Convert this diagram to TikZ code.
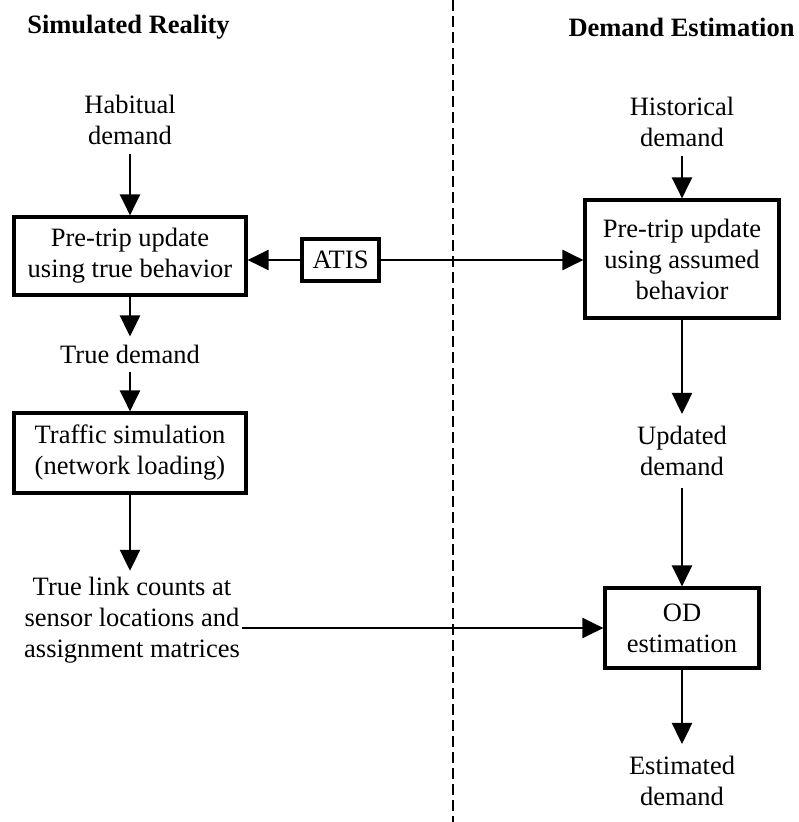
\documentclass[tikz,border=0pt]{standalone}
\usepackage{fontspec}
\setmainfont{Liberation Serif}
\usetikzlibrary{arrows.meta,calc}
\begin{document}
\begin{tikzpicture}[x=1pt,y=-1pt,
  every node/.style={font=\fontsize{26.5}{31}\selectfont, align=center},
  box/.style={draw, line width=3.2pt, inner sep=0pt},
  txt/.style={inner xsep=2pt, inner ysep=9pt},
  ttl/.style={font=\fontsize{26.5}{31}\selectfont\bfseries, inner sep=0pt},
  arr/.style={line width=2.5pt, -{Triangle[width=20pt,length=21pt]}},
  sep/.style={line width=1.8pt, dash pattern=on 11pt off 5pt}]
\useasboundingbox (0,0) rectangle (799,822);
% titles
\node[ttl] (t1) at (128.5,27) {Simulated Reality};
\node[ttl] (t2) at (681.5,27) {Demand Estimation};
% separator
\coordinate (dtop) at (453,0);
\coordinate (dbot) at (453,822);
\draw[sep] (dtop) -- (dbot);
% left column
\node[txt] (hab) at (130,120) {Habitual\\demand};
\node[box, minimum width=232pt, minimum height=78pt] (pt1) at (130,256) {Pre-trip update\\using true behavior};
\node[box, minimum width=77pt, minimum height=42pt] (atis) at (340.5,260) {ATIS};
\node[txt, inner ysep=8pt] (td) at (130,354) {True demand};
\node[box, minimum width=232pt, minimum height=80pt] (ts) at (130,453) {Traffic simulation\\(network loading)};
\node[txt, inner ysep=6pt] (tl) at (132,620) {True link counts at\\sensor locations and\\assignment matrices};
% right column
\node[txt] (his) at (682,122) {Historical\\demand};
\node[box, minimum width=194pt, minimum height=118pt] (pt2) at (682,259) {Pre-trip update\\using assumed\\behavior};
\node[txt, inner ysep=12pt] (upd) at (682,451) {Updated\\demand};
\node[box, minimum width=154pt, minimum height=80pt] (od) at (682,628) {OD\\estimation};
\node[txt, inner ysep=12pt] (est) at (682,781) {Estimated\\demand};
% connectors
\draw[arr] (hab) -- (pt1);
\draw[arr] (pt1) -- (td);
\draw[arr] (td) -- (ts);
\draw[arr] (ts.south) -- (ts.south |- tl.north);
\draw[arr] (atis.west) -- (atis.west -| pt1.east);
\draw[arr] (atis.east) -- (atis.east -| pt2.west);
\draw[arr] (his) -- (pt2);
\draw[arr] (pt2) -- (upd);
\draw[arr] (upd) -- (od);
\draw[arr] (od) -- (est);
\draw[arr] (tl.east |- od.west) -- (od.west);
\end{tikzpicture}
\end{document}
